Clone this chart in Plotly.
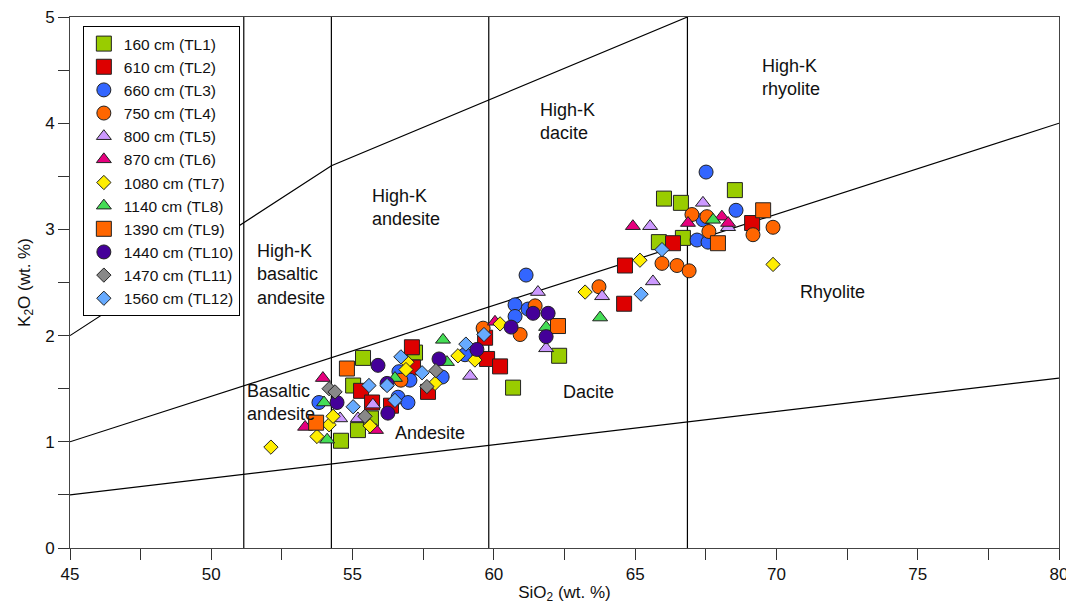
import plotly.graph_objects as go

# ---- data (SiO2, K2O wt.%) ----
tl1_x = [55.37, 55.02, 55.19, 54.59, 57.21, 55.65, 62.31, 60.68, 65.84, 66.02, 66.62, 68.53, 66.69]
tl1_y = [1.79, 1.53, 1.11, 1.01, 1.84, 1.22, 1.81, 1.51, 2.88, 3.29, 3.25, 3.37, 2.92]

tl2_x = [55.30, 55.69, 56.36, 57.10, 57.14, 57.67, 59.69, 59.76, 60.22, 64.64, 64.61, 66.34, 69.14]
tl2_y = [1.48, 1.37, 1.34, 1.89, 1.70, 1.47, 1.98, 1.78, 1.71, 2.66, 2.30, 2.87, 3.06]

tl3_x = [53.81, 56.64, 57.03, 56.61, 56.96, 58.17, 58.98, 61.14, 60.75, 60.75, 61.21, 67.51, 68.57, 67.40, 67.19, 67.58]
tl3_y = [1.37, 1.66, 1.58, 1.42, 1.37, 1.61, 1.82, 2.57, 2.29, 2.18, 2.25, 3.54, 3.18, 3.09, 2.90, 2.88]

tl4_x = [56.71, 59.62, 60.93, 61.46, 63.72, 65.95, 66.48, 66.91, 67.01, 67.54, 67.61, 69.17, 69.88]
tl4_y = [1.58, 2.07, 2.01, 2.28, 2.46, 2.68, 2.66, 2.61, 3.14, 3.12, 2.98, 2.95, 3.02]

tl5_x = [54.56, 55.72, 55.19, 59.16, 61.56, 61.85, 63.83, 65.63, 65.53, 67.40, 68.29]
tl5_y = [1.22, 1.35, 1.22, 1.62, 2.41, 1.88, 2.37, 2.51, 3.03, 3.25, 3.02]

tl6_x = [53.95, 53.32, 55.83, 60.04, 64.92, 66.87, 68.07, 68.29]
tl6_y = [1.60, 1.14, 1.11, 2.13, 3.03, 3.06, 3.12, 3.06]

tl7_x = [52.11, 53.74, 54.17, 54.31, 55.62, 56.93, 56.89, 57.92, 58.73, 59.33, 60.22, 63.23, 65.17, 69.88]
tl7_y = [0.95, 1.05, 1.16, 1.24, 1.15, 1.75, 1.68, 1.55, 1.81, 1.77, 2.11, 2.41, 2.71, 2.67]

tl8_x = [53.99, 54.10, 56.50, 58.20, 58.34, 61.85, 63.76, 67.76]
tl8_y = [1.37, 1.02, 1.60, 1.96, 1.75, 2.08, 2.17, 3.09]

tl9_x = [54.80, 53.71, 62.27, 67.93, 69.53]
tl9_y = [1.69, 1.18, 2.09, 2.87, 3.18]

tl10_x = [55.90, 54.45, 56.22, 56.25, 58.06, 59.40, 60.61, 61.39, 61.92, 61.85]
tl10_y = [1.72, 1.37, 1.55, 1.27, 1.78, 1.87, 2.08, 2.21, 2.21, 1.99]

tl11_x = [54.17, 54.38, 55.44, 57.95, 57.63]
tl11_y = [1.50, 1.47, 1.24, 1.67, 1.52]

tl12_x = [55.02, 55.58, 56.71, 56.22, 56.50, 57.46, 59.01, 59.65, 65.21, 65.95]
tl12_y = [1.33, 1.53, 1.80, 1.53, 1.39, 1.65, 1.92, 2.01, 2.39, 2.81]

series_names = ["160 cm (TL1)", "610 cm (TL2)", "660 cm (TL3)", "750 cm (TL4)",
                "800 cm (TL5)", "870 cm (TL6)", "1080 cm (TL7)", "1140 cm (TL8)",
                "1390 cm (TL9)", "1440 cm (TL10)", "1470 cm (TL11)", "1560 cm (TL12)"]
series_x = [tl1_x, tl2_x, tl3_x, tl4_x, tl5_x, tl6_x, tl7_x, tl8_x, tl9_x, tl10_x, tl11_x, tl12_x]
series_y = [tl1_y, tl2_y, tl3_y, tl4_y, tl5_y, tl6_y, tl7_y, tl8_y, tl9_y, tl10_y, tl11_y, tl12_y]

# classification boundaries
lower_x = [45, 80]
lower_y = [0.5, 1.6]
mid_x = [45, 80]
mid_y = [1.0, 4.0]
upper_x = [45, 54.25, 66.85]
upper_y = [2.0, 3.6, 5.0]
vert_x = [51.15, 54.25, 59.82, 66.85]

field_labels = ["High-K<br>basaltic<br>andesite", "High-K<br>andesite", "High-K<br>dacite",
                "High-K<br>rhyolite", "Rhyolite", "Dacite", "Andesite", "Basaltic<br>andesite"]
field_x = [51.55, 55.62, 61.56, 69.42, 70.76, 62.38, 56.43, 51.19]
field_y = [2.58, 3.21, 4.02, 4.43, 2.41, 1.47, 1.08, 1.37]

# ---- styles ----
symbols = ["square", "square", "circle", "circle", "triangle-up", "triangle-up",
           "diamond", "triangle-up", "square", "circle", "diamond", "diamond"]
colors = ["#99CC00", "#DD0000", "#3366FF", "#FF6600", "#CC99FF", "#E6007E",
          "#FFEE00", "#44DD55", "#FF6600", "#440099", "#888888", "#66AAFF"]
sizes = {"square": 15, "circle": 14, "triangle-up": 13, "diamond": 11}

fig = go.Figure()

line_style = dict(color="black", width=1.2)
fig.add_trace(go.Scatter(x=lower_x, y=lower_y, mode="lines", line=line_style, showlegend=False, hoverinfo="skip"))
fig.add_trace(go.Scatter(x=mid_x, y=mid_y, mode="lines", line=line_style, showlegend=False, hoverinfo="skip"))
fig.add_trace(go.Scatter(x=upper_x, y=upper_y, mode="lines", line=line_style, showlegend=False, hoverinfo="skip"))
for vx in vert_x:
    fig.add_trace(go.Scatter(x=[vx, vx], y=[0, 5], mode="lines", line=line_style,
                             showlegend=False, hoverinfo="skip"))

for name, xs, ys, sym, col in zip(series_names, series_x, series_y, symbols, colors):
    fig.add_trace(go.Scatter(
        x=xs, y=ys, mode="markers", name=name,
        marker=dict(symbol=sym, size=sizes[sym], color=col,
                    line=dict(color="#222222", width=1)),
    ))

for t, fx, fy in zip(field_labels, field_x, field_y):
    fig.add_annotation(x=fx, y=fy, text=t, showarrow=False, xanchor="left", yanchor="middle",
                       align="left", font=dict(size=18, color="#111111"))

axis_common = dict(showgrid=False, zeroline=False, automargin=False, ticklabeloverflow="allow",
                   showline=True, linecolor="#444444", linewidth=1, mirror=True,
                   ticks="outside", ticklen=11, tickcolor="#333333", tickfont=dict(size=17))

# the page body adds an 8px offset, so the figure is 8px smaller and margins adjusted
fig.update_layout(
    width=1066, height=600,
    margin=dict(l=62, r=15, t=9, b=60),
    paper_bgcolor="white", plot_bgcolor="white",
    font=dict(family="Liberation Sans, Arial, sans-serif", color="#111111", size=16),
    legend=dict(x=0.013, y=0.983, xanchor="left", yanchor="top",
                bgcolor="white", bordercolor="black", borderwidth=1,
                font=dict(size=15.5), itemsizing="trace", tracegroupgap=0),
    xaxis=dict(range=[45, 80], dtick=5, tick0=45,
               minor=dict(dtick=2.5, ticks="outside", ticklen=11, tickcolor="#333333", showgrid=False),
               title=dict(text="SiO<sub>2</sub> (wt. %)", font=dict(size=17), standoff=2),
               **axis_common),
    yaxis=dict(range=[0, 5], dtick=1,
               minor=dict(dtick=0.5, ticks="outside", ticklen=11, tickcolor="#333333", showgrid=False),
               title=dict(text="K<sub>2</sub>O (wt. %)", font=dict(size=17), standoff=10),
               **axis_common),
)

fig.write_html("out.html")
